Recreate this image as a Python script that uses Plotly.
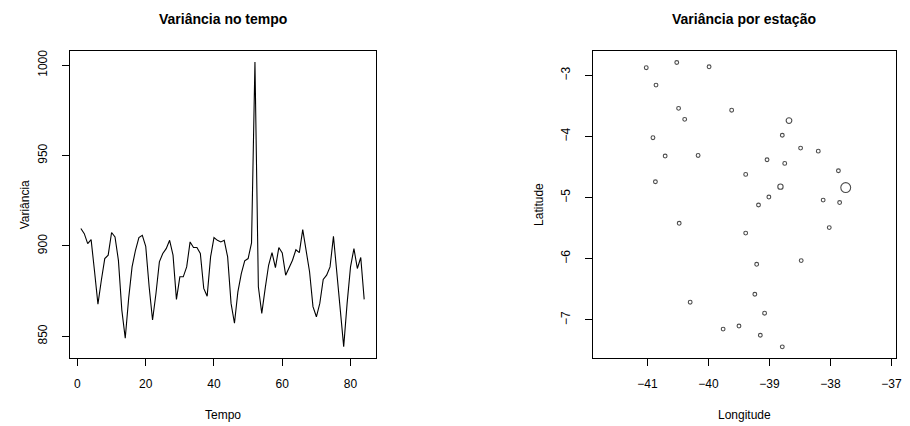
import plotly.graph_objects as go

# ---- Data: variance over time ----
tempo = list(range(1, 85))
variancia = [
    909.6, 906.8, 901.3, 903.5, 886.0, 867.8, 881.0, 893.0, 894.9, 907.4,
    905.0, 892.0, 864.5, 848.9, 871.0, 888.4, 897.6, 904.6, 905.9, 899.8,
    877.4, 859.0, 873.7, 891.2, 895.8, 898.5, 903.1, 894.9, 870.4, 882.9,
    882.9, 888.4, 902.2, 899.1, 899.1, 895.8, 876.5, 872.2, 893.9, 904.6,
    903.1, 902.2, 903.1, 893.9, 868.2, 857.2, 874.6, 884.7, 891.7, 893.0,
    901.7, 1001.8, 877.4, 862.7, 876.5, 889.3, 896.3, 888.0, 899.1, 896.1,
    883.8, 887.5, 892.1, 897.9, 896.3, 909.0, 897.6, 885.7, 866.4, 860.8,
    868.2, 881.4, 883.8, 888.4, 905.3, 884.7, 864.5, 844.3, 868.2, 888.4,
    898.5, 887.5, 893.6, 870.4,
]

# ---- Data: variance by station ----
longitude = [
    -41.02, -40.52, -39.99, -40.86, -40.49, -39.62, -40.39, -38.68, -40.91, -38.79,
    -40.71, -40.17, -38.49, -38.20, -39.04, -38.75, -40.87, -39.39, -37.87, -38.82,
    -37.75, -39.01, -39.18, -38.12, -37.85, -40.48, -39.39, -38.02, -38.48, -39.21,
    -39.24, -40.30, -39.08, -39.76, -39.50, -39.15, -38.79,
]
latitude = [
    -2.875, -2.79, -2.86, -3.16, -3.54, -3.57, -3.72, -3.74, -4.02, -3.98,
    -4.32, -4.31, -4.19, -4.24, -4.38, -4.44, -4.74, -4.62, -4.56, -4.82,
    -4.835, -4.99, -5.12, -5.04, -5.08, -5.42, -5.58, -5.49, -6.03, -6.09,
    -6.58, -6.71, -6.89, -7.15, -7.10, -7.25, -7.44,
]
var_estacao = [
    1.0, 1.0, 1.0, 1.0, 1.0, 1.0, 1.0, 1.5, 1.0, 1.0,
    1.0, 1.0, 1.0, 1.0, 1.0, 1.0, 1.0, 1.0, 1.0, 1.4,
    2.6, 1.0, 1.0, 1.0, 1.0, 1.0, 1.0, 1.0, 1.0, 1.0,
    1.0, 1.0, 1.0, 1.0, 1.0, 1.0, 1.0,
]

x_ticks_left = [0, 20, 40, 60, 80]
y_ticks_left = [850, 900, 950, 1000]
x_ticks_right = [-41, -40, -39, -38, -37]
y_ticks_right = [-3, -4, -5, -6, -7]

W, H = 910, 426
FONT = "Liberation Sans, Arial, Helvetica, sans-serif"

def fx(px):
    return px / W

def fy(py):
    return 1 - py / H

fig = go.Figure()
fig.add_trace(go.Scatter(
    x=tempo, y=variancia, mode="lines",
    line=dict(color="black", width=1.1), xaxis="x", yaxis="y", showlegend=False,
))
fig.add_trace(go.Scatter(
    x=longitude, y=latitude, mode="markers",
    marker=dict(symbol="circle-open", color="black",
                size=[3.8 * v for v in var_estacao], line=dict(width=1.1, color="black")),
    xaxis="x2", yaxis="y2", showlegend=False,
))

common = dict(
    showline=True, linecolor="black", linewidth=1, mirror=True,
    ticks="outside", ticklen=7, tickwidth=1, tickcolor="black",
    showgrid=False, zeroline=False,
    tickfont=dict(family=FONT, size=12, color="black"),
)

fig.update_layout(
    width=W, height=H,
    margin=dict(l=0, r=0, t=0, b=0),
    paper_bgcolor="white", plot_bgcolor="white",
    xaxis=dict(domain=[fx(70), fx(378)], range=[-2.32, 87.32],
               tickvals=x_ticks_left, ticktext=[str(v) for v in x_ticks_left],
               anchor="y", ticklabelstandoff=7, **common),
    yaxis=dict(domain=[fy(358), fy(50)], range=[837.9, 1007.9],
               tickvals=y_ticks_left, ticktext=[str(v) for v in y_ticks_left],
               tickangle=-90, anchor="x", ticklabelstandoff=10, **common),
    xaxis2=dict(domain=[fx(596.5), fx(901.7)], range=[-41.90, -36.93],
                tickvals=x_ticks_right,
                ticktext=["\u2212" + str(abs(v)) for v in x_ticks_right],
                anchor="y2", ticklabelstandoff=7, **common),
    yaxis2=dict(domain=[fy(358), fy(50)], range=[-7.625, -2.60],
                tickvals=y_ticks_right,
                ticktext=["\u2212" + str(abs(v)) for v in y_ticks_right],
                tickangle=-90, anchor="x2", ticklabelstandoff=10, **common),
)

def ann(text, x, y, size=12, bold=False, angle=0):
    fig.add_annotation(
        text=f"<b>{text}</b>" if bold else text,
        x=fx(x), y=fy(y), xref="paper", yref="paper",
        xanchor="center", yanchor="middle", showarrow=False, textangle=angle,
        font=dict(family=FONT, size=size, color="black"),
    )

ann("Variância no tempo", 224, 18, size=14, bold=True)
ann("Variância por estação", 749, 18, size=14, bold=True)
ann("Tempo", 224, 415)
ann("Longitude", 749, 415)
ann("Variância", 25, 204, angle=-90)
ann("Latitude", 542, 204, angle=-90)

fig.write_html("out.html")
